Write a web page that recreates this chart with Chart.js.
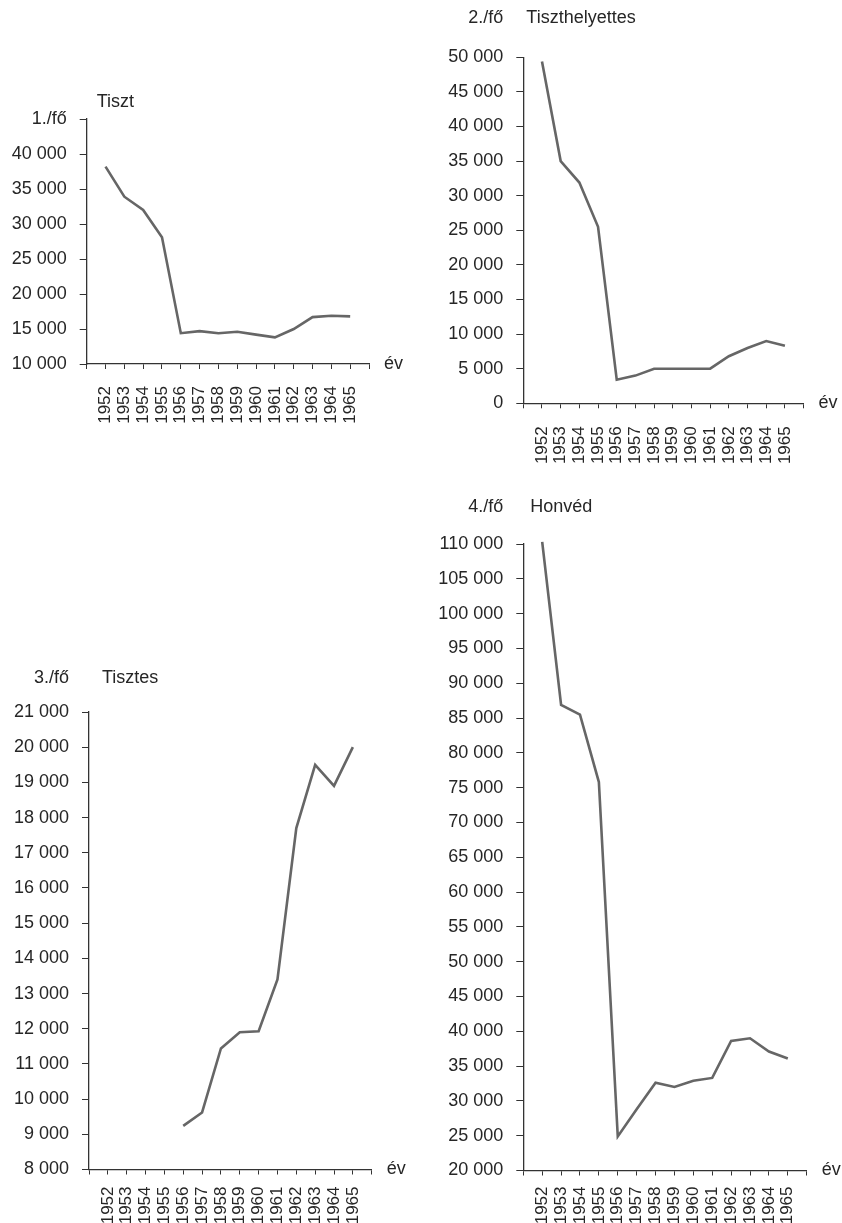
<!DOCTYPE html>
<html><head><meta charset="utf-8">
<script src="https://cdn.jsdelivr.net/npm/chart.js@4"></script>
<style>
html,body{margin:0;padding:0;background:#fff;}
body{width:842px;height:1223px;position:relative;overflow:hidden;}
.box{position:absolute;}
canvas{display:block;}
</style></head><body>
<div class="box" style="left:0;top:0;width:421px;height:490px"><canvas id="c1" width="421" height="490"></canvas></div>
<div class="box" style="left:421px;top:0;width:421px;height:490px"><canvas id="c2" width="421" height="490"></canvas></div>
<div class="box" style="left:0;top:490px;width:421px;height:733px"><canvas id="c3" width="421" height="733"></canvas></div>
<div class="box" style="left:421px;top:490px;width:421px;height:733px"><canvas id="c4" width="421" height="733"></canvas></div>
<script>
// ---- data ----
const years = [1952,1953,1954,1955,1956,1957,1958,1959,1960,1961,1962,1963,1964,1965];
const tisztValues = [38200,33900,32000,28100,14400,14700,14400,14600,14200,13800,15000,16700,16900,16800];
const tiszthelyettesValues = [49400,35000,31900,25500,3400,4000,5000,5000,5000,5000,6800,8000,9000,8300];
const tisztesValues = [null,null,null,null,9240,9620,11440,11900,11930,13400,17700,19500,18900,20000];
const honvedValues = [110300,86900,85500,75800,24900,28800,32600,32000,32900,33300,38600,39000,37100,36100];

const titles = ['Tiszt','Tiszthelyettes','Tisztes','Honvéd'];
const unitLabels = ['1./fő','2./fő','3./fő','4./fő'];
const xAxisLabel = 'év';
const tisztTicks = [10000,45000,5000];
const tiszthelyettesTicks = [0,50000,5000];
const tisztesTicks = [8000,21000,1000];
const honvedTicks = [20000,110000,5000];

// ---- style ----
const FONT = '"Liberation Sans", Arial, Helvetica, sans-serif';
const TEXT = '#262626';
const AXIS = '#333333';
const LINE = '#666666';

function fmt(v){ return String(v).replace(/\B(?=(\d{3})+(?!\d))/g, ' '); }

const textPlugin = {
  id: 'extraText',
  afterDraw(chart, args, o){
    const ctx = chart.ctx, a = chart.chartArea;
    ctx.save();
    ctx.fillStyle = TEXT;
    ctx.textBaseline = 'middle';
    ctx.font = '18px ' + FONT;
    if (o.unit){ ctx.textAlign = 'right'; ctx.fillText(o.unit, a.left - 20, a.top + o.dy); }
    ctx.textAlign = 'left';
    ctx.fillText(o.title, a.left + o.titleDx, a.top + o.dy);
    ctx.fillText(xAxisLabel, a.right + 15, a.bottom);
    ctx.restore();
  }
};

function makeChart(id, values, ticksDef, g){
  const [yMin, yMax, yStep] = ticksDef;
  new Chart(document.getElementById(id), {
    type: 'line',
    data: { datasets: [{
      data: years.map((yr,i)=>({x: yr, y: values[i]})),
      borderColor: LINE, borderWidth: 2.6, pointRadius: 0, tension: 0,
      fill: false, clip: false, spanGaps: false
    }]},
    plugins: [textPlugin],
    options: {
      responsive: false, animation: false, devicePixelRatio: 1,
      layout: { padding: { top: g.padTop, right: g.padRight, left: 0, bottom: 0 } },
      plugins: {
        legend: { display: false }, tooltip: { enabled: false }, title: { display: false },
        extraText: { unit: g.unit, title: g.title, dy: g.dy, titleDx: g.titleDx }
      },
      scales: {
        x: {
          type: 'linear', min: years[0]-1, max: years[years.length-1]+1,
          afterFit: s => { s.height = g.xH; },
          border: { display: true, color: AXIS, width: 1.3 },
          grid: { drawOnChartArea: false, drawTicks: true, tickLength: 5, color: AXIS, lineWidth: 1 },
          ticks: {
            stepSize: 1, autoSkip: false, maxRotation: 90, minRotation: 90,
            padding: g.xPad, color: TEXT, font: { family: FONT, size: 17 },
            callback: v => years.includes(v) ? String(v) : ''
          }
        },
        y: {
          type: 'linear', min: yMin, max: yMax,
          afterFit: s => { s.width = g.yW; },
          border: { display: true, color: AXIS, width: 1.3 },
          grid: { drawOnChartArea: false, drawTicks: true, tickLength: 7, color: AXIS, lineWidth: 1 },
          ticks: {
            stepSize: yStep, autoSkip: false, padding: 13, color: TEXT,
            font: { family: FONT, size: 18 },
            callback: v => (g.topTickLabel && v === yMax) ? g.topTickLabel : fmt(v)
          }
        }
      }
    }
  });
}

makeChart('c1', tisztValues, tisztTicks,
  { padTop: 119, padRight: 52, yW: 86.7, xH: 126, xPad: 17, dy: -16.5, titleDx: 10,
    unit: null, topTickLabel: unitLabels[0], title: titles[0] });
makeChart('c2', tiszthelyettesValues, tiszthelyettesTicks,
  { padTop: 57.3, padRight: 35.3, yW: 102.3, xH: 86.7, xPad: 18, dy: -39, titleDx: 3,
    unit: unitLabels[1], topTickLabel: null, title: titles[1] });
makeChart('c3', tisztesValues, tisztesTicks,
  { padTop: 222, padRight: 49.3, yW: 89, xH: 53.5, xPad: 12, dy: -34, titleDx: 13,
    unit: unitLabels[2], topTickLabel: null, title: titles[2] });
makeChart('c4', honvedValues, honvedTicks,
  { padTop: 54, padRight: 35.3, yW: 102.3, xH: 52.5, xPad: 11, dy: -37.3, titleDx: 7,
    unit: unitLabels[3], topTickLabel: null, title: titles[3] });
</script>
</body></html>
